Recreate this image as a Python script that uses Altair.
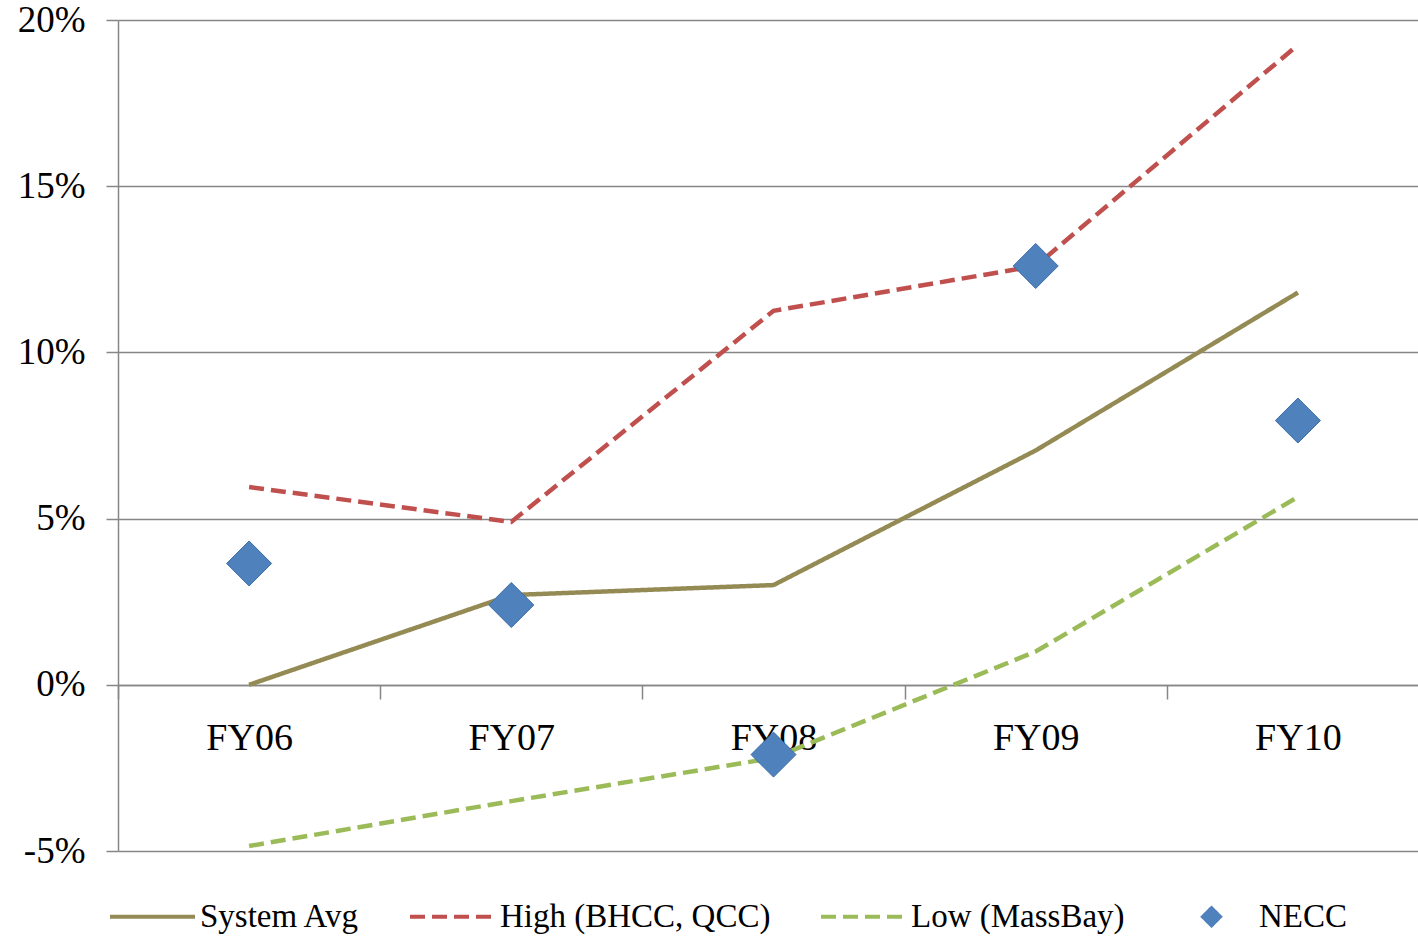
import altair as alt
import pandas as pd

years = ["FY06", "FY07", "FY08", "FY09", "FY10"]
series_names = ["System Avg", "High (BHCC, QCC)", "Low (MassBay)", "NECC"]
system_avg = [0.0, 2.7, 3.0, 7.05, 11.8]
high = [5.95, 4.9, 11.25, 12.6, 19.25]
low = [-4.85, -3.5, -2.2, 1.0, 5.65]
necc = [3.65, 2.4, -2.1, 12.6, 7.95]
y_ticks = [-5, 0, 5, 10, 15, 20]

colors = ["#948A54", "#C0504D", "#9BBB59", "#4F81BD"]
dashes = [[1, 0], [15, 7], [15, 7], [1, 0]]
diamond = "M0,-0.2L0.2,0L0,0.2L-0.2,0Z"
shapes = ["stroke", "stroke", "stroke", diamond]

rows = []
for name, vals in zip(series_names, [system_avg, high, low, necc]):
    for yr, v in zip(years, vals):
        rows.append({"year": yr, "series": name, "value": v})
df = pd.DataFrame(rows)

FONT = "Liberation Serif"
GREY = "#868686"

x_enc = alt.X(
    "year:N",
    bandPosition=0.5,
    scale=alt.Scale(type="band", domain=years, paddingInner=0, paddingOuter=0, range=[0, 1311]),
    axis=alt.Axis(
        title=None, orient="bottom", offset=-166, tickBand="extent",
        domain=True, domainColor=GREY, domainWidth=1.5,
        ticks=True, tickSize=14, tickColor=GREY, tickWidth=1.5,
        labelFont=FONT, labelFontSize=38, labelColor="black", labelPadding=20,
        labelAngle=0, grid=False,
    ),
)
y_enc = alt.Y(
    "value:Q",
    scale=alt.Scale(domain=[-5, 20], nice=False, zero=False),
    axis=alt.Axis(
        title=None, values=y_ticks, labelExpr="datum.value + '%'",
        grid=True, gridColor=GREY, gridWidth=1.5,
        domain=True, domainColor=GREY, domainWidth=1.5,
        ticks=True, tickSize=12, tickColor=GREY, tickWidth=1.5,
        labelFont=FONT, labelFontSize=37, labelColor="black", labelPadding=21,
    ),
)

legend = alt.Legend(
    title=None, orient="none", legendX=-10, legendY=852, direction="horizontal",
    symbolSize=7225, symbolStrokeWidth=4, symbolFillColor="#4F81BD",
    labelFont=FONT, labelFontSize=33, labelColor="black", labelLimit=0,
    columnPadding=42, labelOffset=3,
)

color = alt.Color("series:N", scale=alt.Scale(domain=series_names, range=colors), legend=legend)
dash = alt.StrokeDash("series:N", scale=alt.Scale(domain=series_names, range=dashes), legend=legend)
shape = alt.Shape("series:N", scale=alt.Scale(domain=series_names, range=shapes), legend=legend)

base = alt.Chart(df)
lines = base.transform_filter(alt.datum.series != "NECC").mark_line(strokeWidth=4.5).encode(
    x=x_enc, y=y_enc, color=color, strokeDash=dash,
)
points = base.transform_filter(alt.datum.series == "NECC").mark_point(
    filled=True, size=50625, opacity=1, stroke="#3B6CA6", strokeWidth=1
).encode(x=x_enc, y=y_enc, color=color, shape=shape)

chart = alt.layer(lines, points).properties(
    width=1300, height=831,
    autosize=alt.AutoSizeParams(type="none"),
    padding={"left": 118, "top": 20, "right": 0, "bottom": 85},
).configure_view(stroke=None).configure(background="white")

chart.save("out.html", embed_options={"renderer": "svg", "actions": False})
